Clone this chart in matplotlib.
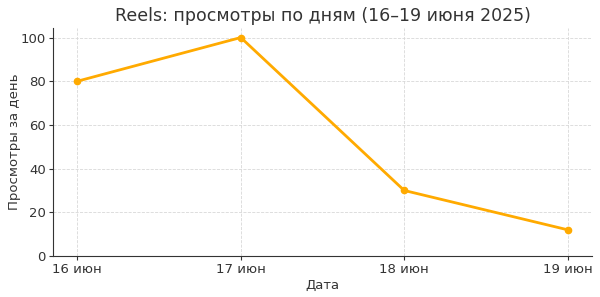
import matplotlib.pyplot as plt

# Data
dates = ['16 июн', '17 июн', '18 июн', '19 июн']
views = [80, 100, 30, 12]

plt.rcParams['font.family'] = ['DejaVu Sans']
text_color = '#333333'

fig, ax = plt.subplots(figsize=(6, 2.97), dpi=100)
fig.subplots_adjust(left=0.088, right=0.987, bottom=0.138, top=0.906)

ax.plot(range(len(dates)), views, color='#FFAA00', linewidth=2, marker='o', markersize=4.5)
ax.set_xticks(range(len(dates)))
ax.set_xticklabels(dates)
ax.set_ylim(bottom=0)

ax.set_title('Reels: просмотры по дням (16–19 июня 2025)', fontsize=12.5, color=text_color, pad=5)
ax.set_xlabel('Дата', fontsize=9.5, color=text_color, labelpad=2)
ax.set_ylabel('Просмотры за день', fontsize=9.5, color=text_color, labelpad=0)

ax.grid(True, linestyle='--', linewidth=0.6, color='#d8d8d8')
ax.set_axisbelow(True)
for side in ['top', 'right']:
    ax.spines[side].set_visible(False)
for side in ['left', 'bottom']:
    ax.spines[side].set_color('#333333')
ax.tick_params(colors=text_color, labelsize=9.5, length=3, pad=2)

fig.savefig('out.png')
